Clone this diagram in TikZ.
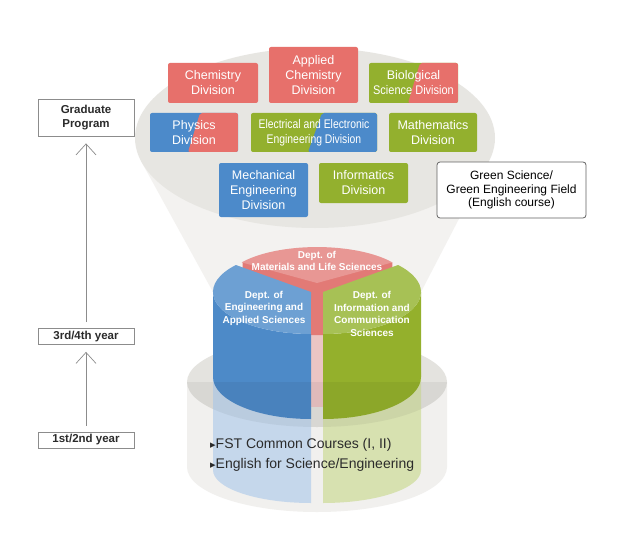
\documentclass[tikz,border=0pt]{standalone}
\usepackage{fontspec}
\usepackage{graphicx}
\setmainfont{Liberation Sans}
\newfontfamily\symfont{DejaVu Sans}
\usetikzlibrary{arrows.meta}
\definecolor{divred}{HTML}{E7706B}
\definecolor{divblue}{HTML}{4C8ACA}
\definecolor{divgreen}{HTML}{93B02E}
\definecolor{funnelgray}{HTML}{F3F2F0}
\definecolor{lensgray}{HTML}{E7E6E2}
\definecolor{cylside}{HTML}{F1F0EE}
\definecolor{cyltop}{HTML}{E4E3DF}
\definecolor{paleblue}{HTML}{C5D7EB}
\definecolor{palegreen}{HTML}{D7E1B0}
\definecolor{palered}{HTML}{EBC5C4}
\definecolor{redbody}{HTML}{E27A76}
\definecolor{redtop}{HTML}{E89794}
\definecolor{blueside}{HTML}{4D8AC8}
\definecolor{bluetop}{HTML}{6DA0D3}
\definecolor{greenside}{HTML}{94B02C}
\definecolor{greentop}{HTML}{A7C155}
\definecolor{framegray}{HTML}{8C8C8C}
\definecolor{textdark}{HTML}{2B2B2B}

\begin{document}
\begin{tikzpicture}[x=1pt,y=1pt,
  divbox/.style={fill=#1, rounded corners=2pt, text=white, align=center, inner sep=0pt,
    minimum width=89pt, minimum height=40pt, font=\fontsize{12.5}{15}\selectfont},
  halfbox/.style n args={3}{path picture={\fill[#1] ([xshift=#2]path picture bounding box.north)
    -- (path picture bounding box.north east) -- (path picture bounding box.south east)
    -- ([xshift=#3]path picture bounding box.south) -- cycle;}},
  yearbox/.style={draw=framegray, fill=white, line width=0.8pt, minimum width=96pt, minimum height=16pt,
    inner sep=0pt, align=center, text=textdark, font=\bfseries\fontsize{11.5}{13.7}\selectfont},
  yeararrow/.style={draw=framegray, line width=0.7pt, -{Straight Barb[length=11pt,width=20pt]},
    shorten <=6pt, shorten >=7pt},
  depttext/.style={text=white, align=center, inner sep=0pt, font=\bfseries\fontsize{10}{12.5}\selectfont},
  coursetext/.style={anchor=west, inner sep=0pt, text=textdark, font=\fontsize{14}{16}\selectfont}]

\useasboundingbox (0,0) rectangle (629,542);
\fill[white] (0,0) rectangle (629,542);

\fill[funnelgray] (141,381) -- (489,381) -- (421,250) -- (213,250) -- cycle;
\fill[lensgray] (315,404) ellipse [x radius=180pt, y radius=90pt];

\fill[cylside] (187,160) -- (187,75) arc[start angle=180, end angle=360, x radius=130pt, y radius=45pt] -- (447,160) -- cycle;
\fill[cyltop] (317,160) ellipse [x radius=130pt, y radius=45pt];

\fill[paleblue] (213,170) -- (213,72) arc[start angle=180, end angle=270, x radius=98pt, y radius=33pt] -- (311,170) -- cycle;
\fill[palegreen] (323,170) -- (323,39) arc[start angle=270, end angle=360, x radius=98pt, y radius=33pt] -- (421,170) -- cycle;
\fill[palered] (311,207) rectangle (323,135);

\fill[redbody] (242.6,279.6) -- (242.6,267.6) -- (311,240) -- (311,207) -- (323,207) -- (323,240) -- (392.4,267.6) -- (392.4,279.6) -- cycle;
\fill[redtop] (317,259) -- (392.4,279.6) arc[start angle=35, end angle=145, x radius=92pt, y radius=36pt] -- cycle;

\fill[blueside] (213,250) -- (213,165) arc[start angle=180, end angle=270, x radius=98pt, y radius=42pt] -- (311,208) arc[start angle=270, end angle=180, x radius=98pt, y radius=42pt] -- cycle;
\fill[bluetop] (311,250) -- (235.9,277) arc[start angle=140, end angle=270, x radius=98pt, y radius=42pt] -- cycle;
\fill[greenside] (421,165) arc[start angle=360, end angle=270, x radius=98pt, y radius=42pt] -- (323,208) arc[start angle=270, end angle=360, x radius=98pt, y radius=42pt] -- cycle;
\fill[greentop] (323,250) -- (323,208) arc[start angle=-90, end angle=40, x radius=98pt, y radius=42pt] -- cycle;

\fill[black, opacity=0.05] (187,160) arc[start angle=180, end angle=360, x radius=130pt, y radius=45pt] -- cycle;

\node[divbox=divred, minimum width=90pt] (chem) at (213,459) {Chemistry\\Division};
\node[divbox=divred, minimum height=56pt] (achem) at (313.5,467) {Applied\\Chemistry\\Division};
\node[divbox=divgreen, halfbox={divred}{6.5pt}{-5.5pt}] (bio) at (413.5,459) {Biological\\\scalebox{0.88}[1]{Science Division}};
\node[divbox=divblue, minimum width=88pt, minimum height=39pt, halfbox={divred}{6pt}{-6pt}] (phys) at (194,409.5) {Physics\\Division};
\node[divbox=divgreen, minimum width=126pt, minimum height=39pt, halfbox={divblue}{8pt}{-6pt}] (elec) at (314,409.5) {\scalebox{0.83}[1]{Electrical and Electronic}\\\scalebox{0.83}[1]{Engineering Division}};
\node[divbox=divgreen, minimum width=88pt, minimum height=39pt] (math) at (433,409.5) {Mathematics\\Division};
\node[divbox=divblue, minimum height=54pt] (mech) at (263.5,352) {Mechanical\\Engineering\\Division};
\node[divbox=divgreen] (info) at (363.5,359) {Informatics\\Division};
\node[draw=framegray!70!black, line width=0.8pt, fill=white, rounded corners=3pt, minimum width=149pt, minimum height=56pt,
  inner sep=0pt, align=center, font=\fontsize{12}{13.5}\selectfont] (green) at (511.5,352) {Green Science/\\Green Engineering Field\\(English course)};

\node[depttext] (mls) at (317,281) {Dept. of\\Materials and Life Sciences};
\node[depttext] (eas) at (264,234) {Dept. of\\Engineering and\\Applied Sciences};
\node[depttext] (ics) at (372,228) {Dept. of\\Information and\\Communication\\Sciences};

\node[coursetext] (fst) at (210,97) {{\symfont\fontsize{11}{11}\selectfont ▸}FST Common Courses (I, II)};
\node[coursetext] (eng) at (210,77) {{\symfont\fontsize{11}{11}\selectfont ▸}English for Science/Engineering};

\node[yearbox, minimum height=37pt] (grad) at (86,424.5) {Graduate\\Program};
\node[yearbox] (upper) at (86,205.5) {3rd/4th year};
\node[yearbox] (lower) at (86,102) {1st/2nd year};
\draw[yeararrow] (lower) -- (upper);
\draw[yeararrow] (upper) -- (grad);
\end{tikzpicture}
\end{document}
